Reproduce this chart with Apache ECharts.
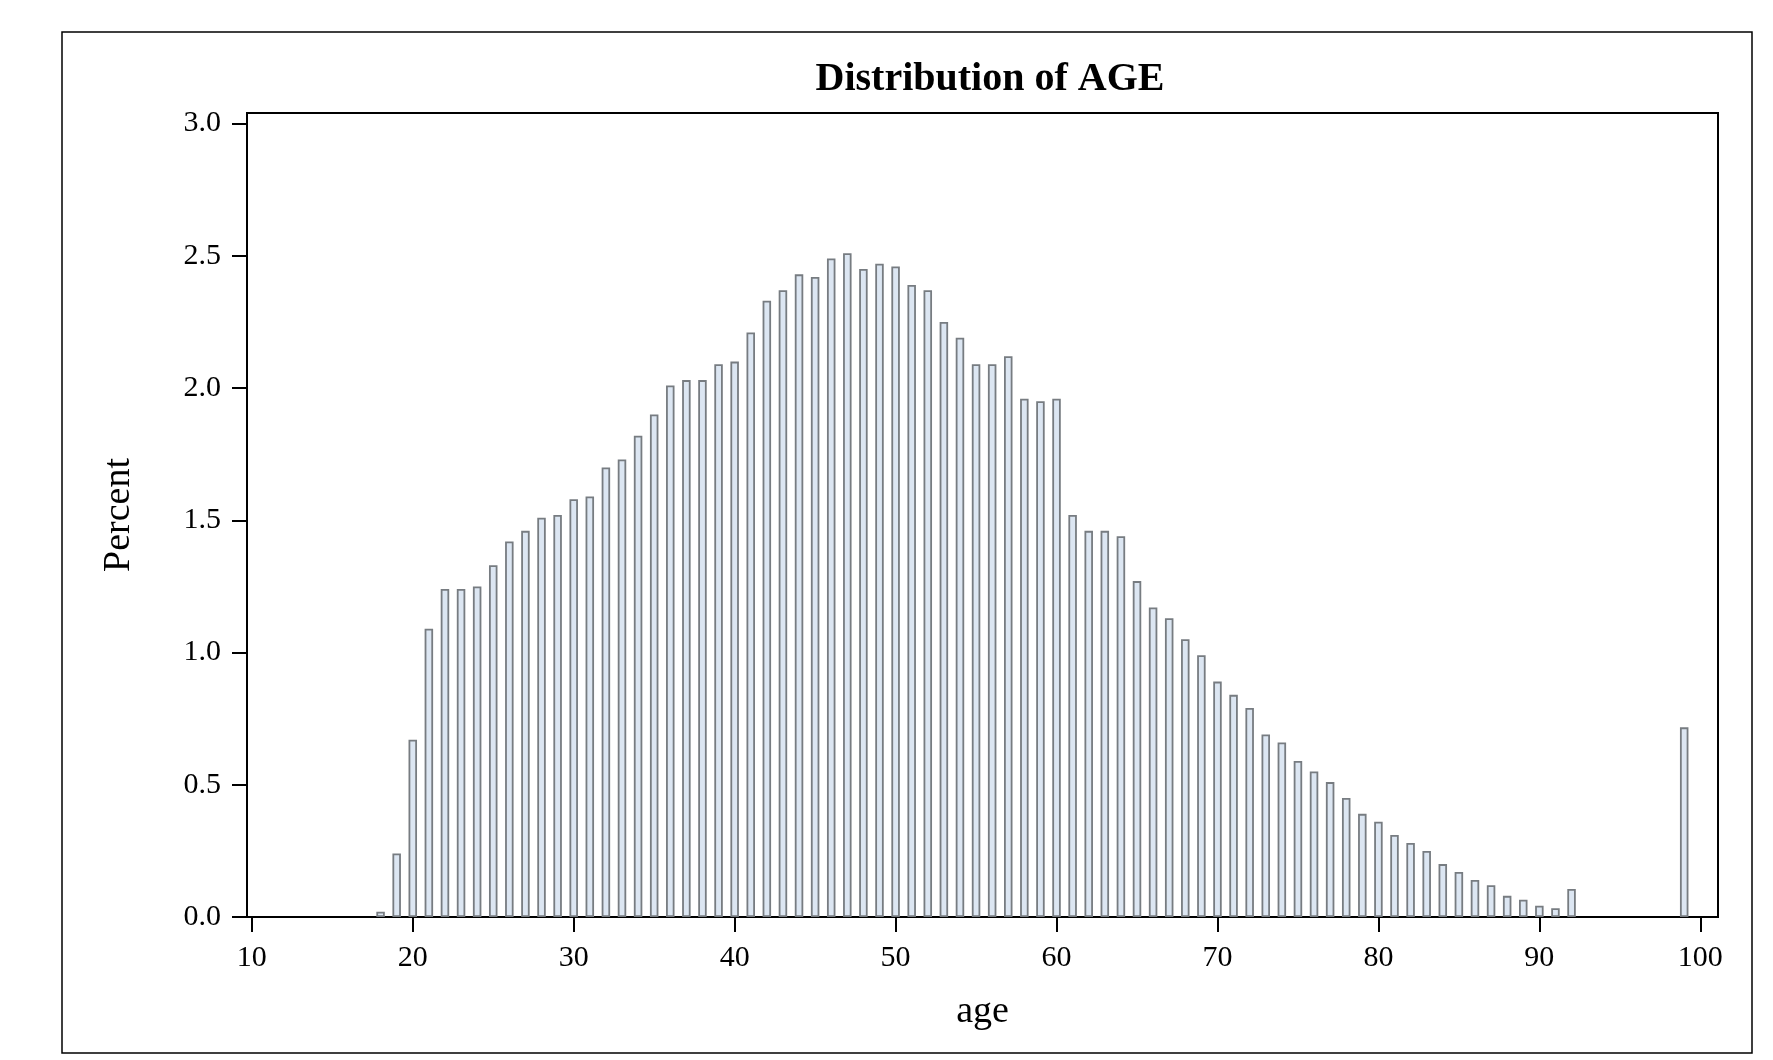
<!DOCTYPE html>
<html>
<head>
<meta charset="utf-8">
<title>Distribution of AGE</title>
<script src="https://cdn.jsdelivr.net/npm/echarts@6/dist/echarts.min.js"></script>
<style>
  html, body { margin: 0; padding: 0; background: #ffffff; }
  #chart { width: 1773px; height: 1060px; }
</style>
</head>
<body>
<div id="chart"></div>
<script>
// Age in years (one bar per single year of age)
const ages = [
  18, 19, 20, 21, 22, 23, 24, 25, 26, 27, 28, 29,
  30, 31, 32, 33, 34, 35, 36, 37, 38, 39,
  40, 41, 42, 43, 44, 45, 46, 47, 48, 49,
  50, 51, 52, 53, 54, 55, 56, 57, 58, 59,
  60, 61, 62, 63, 64, 65, 66, 67, 68, 69,
  70, 71, 72, 73, 74, 75, 76, 77, 78, 79,
  80, 81, 82, 83, 84, 85, 86, 87, 88, 89,
  90, 91, 92, 99
];

// Percent of records at each age
const percents = [
  0.02, 0.24, 0.67, 1.09, 1.24, 1.24, 1.25, 1.33, 1.42, 1.46, 1.51, 1.52,
  1.58, 1.59, 1.70, 1.73, 1.82, 1.90, 2.01, 2.03, 2.03, 2.09,
  2.10, 2.21, 2.33, 2.37, 2.43, 2.42, 2.49, 2.51, 2.45, 2.47,
  2.46, 2.39, 2.37, 2.25, 2.19, 2.09, 2.09, 2.12, 1.96, 1.95,
  1.96, 1.52, 1.46, 1.46, 1.44, 1.27, 1.17, 1.13, 1.05, 0.99,
  0.89, 0.84, 0.79, 0.69, 0.66, 0.59, 0.55, 0.51, 0.45, 0.39,
  0.36, 0.31, 0.28, 0.25, 0.20, 0.17, 0.14, 0.12, 0.08, 0.065,
  0.043, 0.033, 0.106, 0.717
];

// Axis tick values
const ageTicks = [10, 20, 30, 40, 50, 60, 70, 80, 90, 100];
const percentTicks = [0, 0.5, 1.0, 1.5, 2.0, 2.5, 3.0];

const FONT = "'Liberation Serif', 'Times New Roman', serif";

const chart = echarts.init(document.getElementById('chart'), null, { renderer: 'canvas' });

chart.setOption({
  animation: false,
  backgroundColor: '#ffffff',
  title: {
    text: 'Distribution of AGE',
    left: 985,
    top: 55,
    textAlign: 'center',
    textStyle: { fontFamily: FONT, fontWeight: 'bold', fontSize: 40, color: '#000' }
  },
  graphic: [{
    type: 'rect',
    shape: { x: 62, y: 32, width: 1690, height: 1021 },
    style: { fill: 'none', stroke: '#000', lineWidth: 1.5 },
    silent: true
  }],
  grid: {
    left: 247, right: 55, top: 113, bottom: 143,
    show: true, borderColor: '#000', borderWidth: 2, backgroundColor: 'transparent'
  },
  xAxis: {
    type: 'value',
    min: 9.7,
    max: 101.1,
    name: 'age',
    nameLocation: 'middle',
    nameGap: 76,
    nameTextStyle: { fontFamily: FONT, fontSize: 38, color: '#000' },
    axisLine: { show: true, onZero: false, lineStyle: { color: '#000', width: 2 } },
    axisTick: { show: true, length: 15, customValues: ageTicks, lineStyle: { color: '#000', width: 2 } },
    axisLabel: {
      customValues: ageTicks,
      margin: 26,
      fontFamily: FONT, fontSize: 30, color: '#000'
    },
    splitLine: { show: false }
  },
  yAxis: {
    type: 'value',
    min: 0,
    max: 3.04,
    name: 'Percent',
    nameLocation: 'middle',
    nameGap: 109,
    nameTextStyle: { fontFamily: FONT, fontSize: 38, color: '#000' },
    axisLine: { show: true, lineStyle: { color: '#000', width: 2 } },
    axisTick: { show: true, length: 15, customValues: percentTicks, lineStyle: { color: '#000', width: 2 } },
    axisLabel: {
      customValues: percentTicks,
      margin: 26,
      fontFamily: FONT, fontSize: 30, color: '#000',
      formatter: v => Number(v).toFixed(1)
    },
    splitLine: { show: false }
  },
  series: [{
    type: 'bar',
    data: ages.map((a, i) => [a, percents[i]]),
    barWidth: 8.5,
    itemStyle: { color: '#dce6f2', borderColor: '#777c81', borderWidth: 1.8 },
    emphasis: { disabled: true }
  }]
});
</script>
</body>
</html>
